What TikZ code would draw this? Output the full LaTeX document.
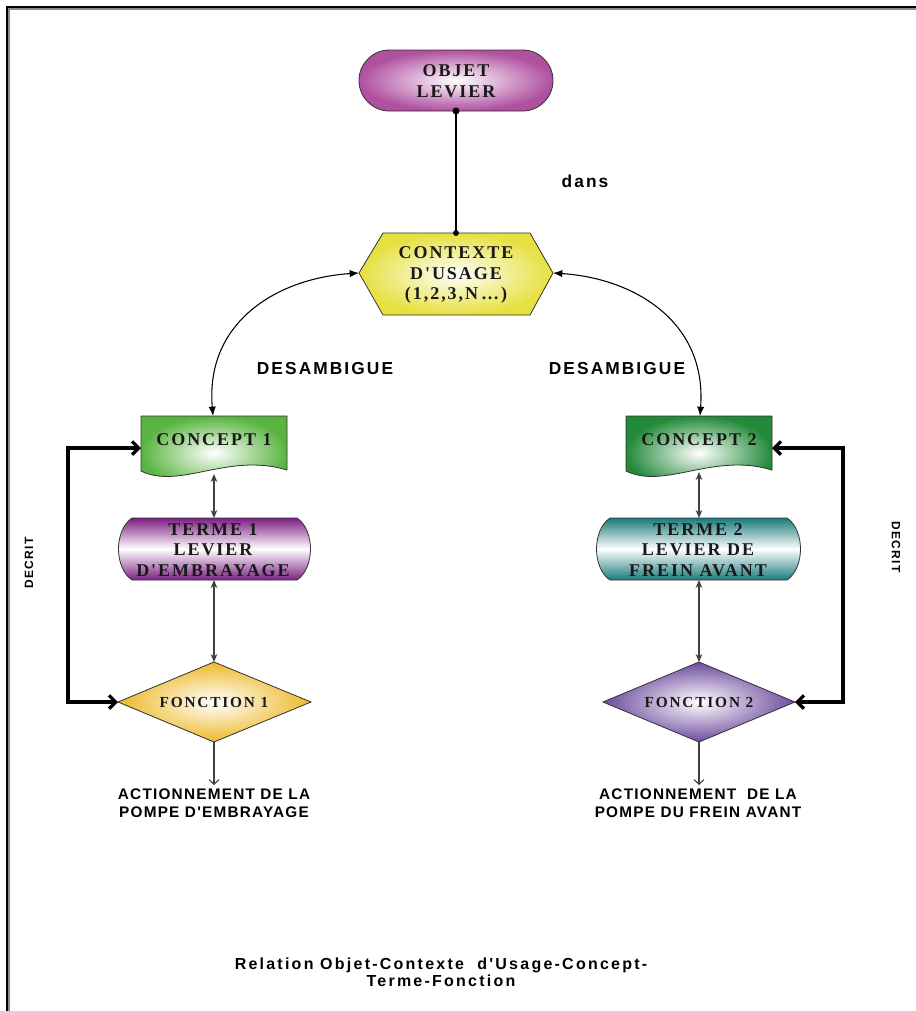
\documentclass[tikz,border=0pt]{standalone}
\usepackage{fontspec}
\usetikzlibrary{arrows.meta}
\newfontfamily\boxfont{Liberation Serif}
\newfontfamily\labfont{Liberation Sans}

\definecolor{objcol}{RGB}{176,80,160}
\definecolor{hexcol}{RGB}{230,224,64}
\definecolor{conAcol}{RGB}{90,180,65}
\definecolor{conBcol}{RGB}{35,138,58}
\definecolor{terAcol}{RGB}{123,31,130}
\definecolor{terBcol}{RGB}{26,122,122}
\definecolor{fonAcol}{RGB}{237,185,42}
\definecolor{fonBcol}{RGB}{110,74,158}
\definecolor{edgecol}{RGB}{50,50,50}

\tikzset{
  shapeline/.style={draw=edgecol, line width=0.6pt},
  radfill/.style={shapeline, inner color=white, outer color=#1},
  bandfill/.style={shapeline, top color=#1, bottom color=#1, middle color=white},
  boxtext/.style={font=\boxfont\bfseries\addfontfeatures{LetterSpace=11}\fontsize{13.5}{15.5}\selectfont,
                  align=center, text=black!90, inner sep=0pt},
  fontext/.style={font=\boxfont\bfseries\addfontfeatures{LetterSpace=12}\fontsize{11.5}{13}\selectfont,
                  align=center, text=black!90, inner sep=0pt},
  linklabel/.style={font=\labfont\bfseries\addfontfeatures{LetterSpace=12}\fontsize{13}{15}\selectfont,
                  inner sep=0pt},
  outlabel/.style={font=\labfont\bfseries\addfontfeatures{LetterSpace=8}\fontsize{11.5}{13}\selectfont,
                  align=center, inner sep=0pt},
  sidelabel/.style={font=\labfont\bfseries\addfontfeatures{LetterSpace=12}\fontsize{9}{10}\selectfont,
                  inner sep=0pt},
  captext/.style={font=\labfont\bfseries\addfontfeatures{LetterSpace=14}\fontsize{12}{12.5}\selectfont,
                  align=center, inner sep=0pt},
  curvelink/.style={line width=0.8pt, {Latex[length=7pt,width=5.5pt]}-{Latex[length=7pt,width=5.5pt]}},
  pairlink/.style={draw=black!75, line width=1.2pt, {Stealth[length=6pt,width=5pt]}-{Stealth[length=6pt,width=5pt]}},
  looplink/.style={line width=2.5pt, {Straight Barb[length=5pt,width=10pt]}-{Straight Barb[length=5pt,width=10pt]}},
  outlink/.style={draw=black!75, line width=0.8pt, -{Straight Barb[length=3.5pt,width=7.5pt]}},
}

\begin{document}
\begin{tikzpicture}[x=0.75pt,y=-0.75pt]
\useasboundingbox (0,0) rectangle (916,1011);

% page frame
\draw[black!45, line width=0.8pt] (9,1011) -- (9,9) -- (916,9);
\draw[black, line width=1.3pt] (7,1011) -- (7,7) -- (916,7);

% ---- shapes ----
% object capsule
\path[radfill=objcol, rounded corners=22.8pt] (359,50) rectangle (553,111);
% usage-context hexagon
\path[radfill=hexcol] (383,233) -- (530,233) -- (553,273) -- (530,315)
      -- (383,315) -- (359,273) -- cycle;
% concept documents
\path[radfill=conAcol] (141,416) -- (287,416) -- (287,470)
      .. controls (228,452) and (180,490) .. (141,471) -- cycle;
\path[radfill=conBcol] (626,416) -- (772,416) -- (772,470)
      .. controls (713,452) and (665,490) .. (626,471) -- cycle;
% term shapes
\path[bandfill=terAcol] (132,518) -- (297,518) .. controls (315,530) and (315,568) .. (297,580)
      -- (132,580) .. controls (114,568) and (114,530) .. (132,518) -- cycle;
\path[bandfill=terBcol] (610,518) -- (787,518) .. controls (805,530) and (805,568) .. (787,580)
      -- (610,580) .. controls (592,568) and (592,530) .. (610,518) -- cycle;
% function diamonds
\path[radfill=fonAcol] (214,662) -- (311,702) -- (214,742) -- (118,702) -- cycle;
\path[radfill=fonBcol] (699,662) -- (795,702) -- (699,742) -- (603,702) -- cycle;

% ---- texts ----
\node[boxtext] (objet) at (456,81) {OBJET\\LEVIER};
\node[boxtext] (ctx) at (456,275) {CONTEXTE\\D'USAGE\\(1,2,3,N\,…)};
\node[boxtext] (conA) at (214,440) {CONCEPT 1};
\node[boxtext] (conB) at (699,440) {CONCEPT 2};
\node[boxtext] (terA) at (213,550) {TERME 1\\LEVIER\\D'EMBRAYAGE};
\node[boxtext] (terB) at (698,550) {TERME 2\\LEVIER DE\\FREIN AVANT};
\node[fontext] (fonA) at (214,702) {FONCTION 1};
\node[fontext] (fonB) at (699,702) {FONCTION 2};

\node[linklabel] (dans) at (585,181) {dans};
\node[linklabel] (desA) at (325,369) {DESAMBIGUE};
\node[linklabel] (desB) at (617,369) {DESAMBIGUE};
\node[sidelabel, rotate=90] (decA) at (29,563) {DECRIT};
\node[sidelabel, rotate=-90] (decB) at (896,547) {DECRIT};
\node[outlabel, anchor=north] (actA) at (214,789) {ACTIONNEMENT DE LA\\POMPE D'EMBRAYAGE};
\node[outlabel, anchor=north] (actB) at (698,789) {ACTIONNEMENT\ \ DE LA\\POMPE DU FREIN AVANT};
\node[captext, anchor=north] (cap) at (441,958) {Relation Objet-Contexte\ \ d'Usage-Concept-\\Terme-Fonction};

% ---- anchor points ----
\coordinate (objB) at (456,111);
\coordinate (hexT) at (456,233);
\coordinate (hexL) at (359,273);
\coordinate (hexR) at (553,273);
\coordinate (cAT) at (213,416);
\coordinate (cAL) at (141,448);
\coordinate (cAB) at (214,474);
\coordinate (tAT) at (214,518);
\coordinate (tAB) at (214,580);
\coordinate (fAT) at (214,662);
\coordinate (fAL) at (118,702);
\coordinate (fAB) at (214,742);
\coordinate (oA)  at (214,785);
\coordinate (cBT) at (700,416);
\coordinate (cBR) at (772,448);
\coordinate (cBB) at (699,472);
\coordinate (tBT) at (699,518);
\coordinate (tBB) at (699,580);
\coordinate (fBT) at (699,662);
\coordinate (fBR) at (795,702);
\coordinate (fBB) at (699,742);
\coordinate (oB)  at (699,785);

% ---- connectors ----
\draw[line width=0.8pt] (objB) -- (hexT);
\fill (objB) circle (2.6pt);
\fill (hexT) circle (2.2pt);

\draw[curvelink] (cAT) .. controls (205,320) and (280,278) .. (hexL);
\draw[curvelink] (cBT) .. controls (707,320) and (632,278) .. (hexR);

\draw[pairlink] (cAB) -- (tAT);
\draw[pairlink] (tAB) -- (fAT);
\draw[pairlink] (cBB) -- (tBT);
\draw[pairlink] (tBB) -- (fBT);

\draw[looplink] (cAL) -- ++(-73,0) |- (fAL);
\draw[looplink] (cBR) -- ++(71,0) |- (fBR);

\draw[outlink] (fAB) -- (oA);
\draw[outlink] (fBB) -- (oB);
\end{tikzpicture}
\end{document}
